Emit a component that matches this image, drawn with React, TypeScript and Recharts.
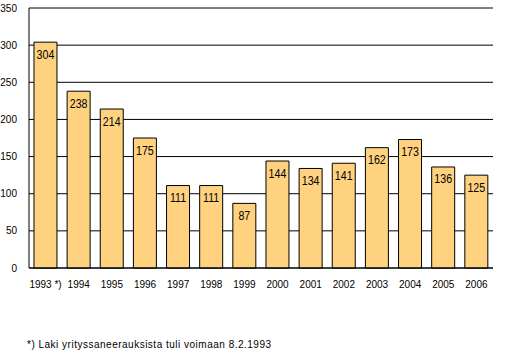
import React from "react";
import { BarChart, Bar, XAxis, YAxis, CartesianGrid, LabelList } from "recharts";

const categories = ["1993 *)", "1994", "1995", "1996", "1997", "1998", "1999", "2000", "2001", "2002", "2003", "2004", "2005", "2006"];
const values = [304, 238, 214, 175, 111, 111, 87, 144, 134, 141, 162, 173, 136, 125];
const yTicks = [0, 50, 100, 150, 200, 250, 300, 350];
const footnote = "*) Laki yrityssaneerauksista tuli voimaan 8.2.1993";

const data = categories.map((c, i) => ({ name: c, value: values[i] }));

const ValueLabel = (props: any) => {
  const { x, y, width, value } = props;
  const cx = Number(x) + Number(width) / 2;
  const baseline = Number(y) + 16.5;
  return (
    <text
      transform={`translate(${cx},${baseline}) scale(0.82,1)`}
      textAnchor="middle"
      fill="#000"
      fontSize={13}
      fontFamily="Liberation Sans, Arial, sans-serif"
    >
      {value}
    </text>
  );
};

export default function App() {
  return (
    <div style={{ position: "absolute", left: 0, top: 0, width: 519, height: 354, background: "#fff" }}>
      <BarChart
        width={519}
        height={354}
        data={data}
        margin={{ top: 8, right: 26, bottom: 56, left: 0 }}
        barCategoryGap="15%"
      >
        <CartesianGrid horizontal={true} vertical={false} stroke="#000" strokeWidth={1} />
        <XAxis
          dataKey="name"
          height={30}
          axisLine={{ stroke: "#000" }}
          tickLine={false}
          tickSize={6}
          tickMargin={7}
          interval={0}
          tick={{ fill: "#000", fontSize: 10, fontFamily: "Liberation Sans, Arial, sans-serif" }}
        />
        <YAxis
          width={29}
          domain={[0, 350]}
          ticks={yTicks}
          axisLine={{ stroke: "#000" }}
          tickLine={false}
          tickSize={6}
          tickMargin={6}
          tick={{ fill: "#000", fontSize: 10, fontFamily: "Liberation Sans, Arial, sans-serif" }}
        />
        <YAxis
          yAxisId="r"
          orientation="right"
          width={0}
          domain={[0, 350]}
          ticks={yTicks}
          axisLine={{ stroke: "#000" }}
          tickLine={false}
          tick={false}
        />
        <Bar dataKey="value" fill="#FFD27F" stroke="#000" strokeWidth={1} isAnimationActive={false}>
          <LabelList dataKey="value" content={ValueLabel} />
        </Bar>
      </BarChart>
      <div
        style={{
          position: "absolute",
          left: 27,
          top: 339,
          fontSize: 10,
          fontFamily: "Liberation Sans, Arial, sans-serif",
          color: "#000",
          whiteSpace: "nowrap",
          lineHeight: "12px",
          letterSpacing: "0.5px",
        }}
      >
        {footnote}
      </div>
    </div>
  );
}
